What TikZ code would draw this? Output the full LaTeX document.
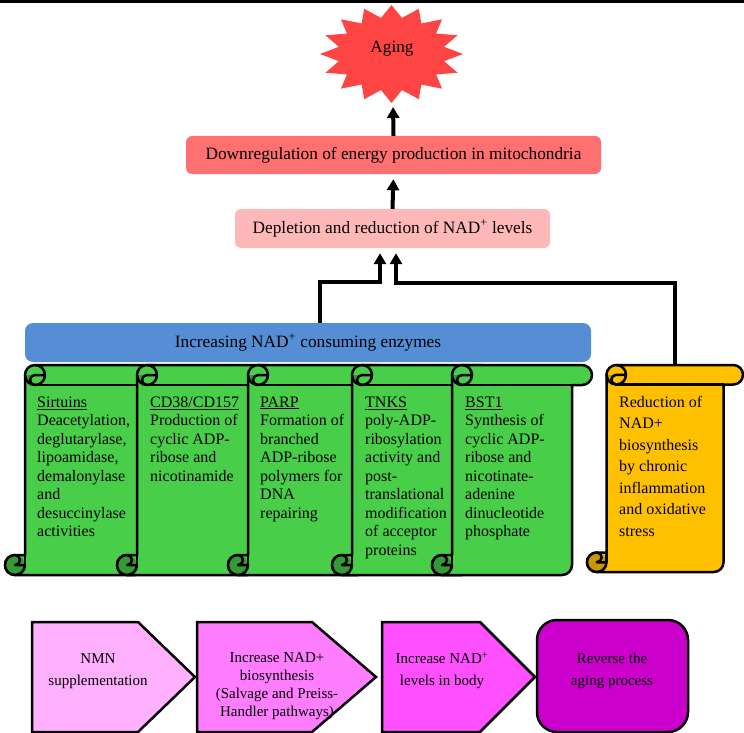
\documentclass[tikz,border=0pt]{standalone}
\usepackage{fontspec}
\setmainfont{Liberation Serif}
\usetikzlibrary{arrows.meta}
\definecolor{starred}{RGB}{255,68,68}
\definecolor{downred}{RGB}{255,112,112}
\definecolor{deppink}{RGB}{255,184,184}
\definecolor{enzblue}{RGB}{85,142,213}
\definecolor{scrollgreen}{RGB}{72,206,72}
\definecolor{scrolldark}{RGB}{52,155,52}
\definecolor{scrollgold}{RGB}{255,192,0}
\definecolor{golddark}{RGB}{200,150,0}
\definecolor{pentA}{RGB}{255,176,255}
\definecolor{pentB}{RGB}{255,125,255}
\definecolor{pentC}{RGB}{255,80,255}
\definecolor{rectD}{RGB}{204,0,204}
\newcommand{\vscroll}[7]{%
  \pgfmathsetmacro\scL{#1}\pgfmathsetmacro\scT{#2}%
  \pgfmathsetmacro\scR{#3}\pgfmathsetmacro\scB{#4}%
  \pgfmathsetmacro\scC{#5}\pgfmathsetmacro\scH{#5/2}\pgfmathsetmacro\scQ{#5/4}%
  \path[fill=#6, draw=black, line width=2.5pt, line join=round]
    (\scL+\scC,\scB-\scC) -- (\scL+\scC,\scT+\scH)
    arc[start angle=180,end angle=90,radius=\scH pt] -- (\scR-\scH,\scT)
    arc[start angle=90,end angle=-90,radius=\scH pt] -- (\scR-\scC,\scT+\scC)
    -- (\scR-\scC,\scB-\scH)
    arc[start angle=0,end angle=-90,radius=\scH pt] -- (\scL+\scH,\scB)
    arc[start angle=-90,end angle=-270,radius=\scH pt] -- cycle;
  \fill[#7] (\scL+\scC,\scT+\scH) arc[start angle=180,end angle=270,radius=\scH pt]
    arc[start angle=270,end angle=90,radius=\scQ pt] -- cycle;
  \fill[#7] (\scL+\scH,\scB-\scH) circle[radius=\scH pt];
  \draw[black, line width=2.5pt, line cap=round, line join=round]
    (\scL+1.5*\scC,\scT) arc[start angle=90,end angle=-90,radius=\scH pt]
    arc[start angle=270,end angle=90,radius=\scQ pt] -- (\scL+2*\scC,\scT+\scH);
  \draw[black, line width=2.5pt, line cap=round]
    (\scL+\scC,\scT+\scH) arc[start angle=180,end angle=270,radius=\scH pt];
  \draw[black, line width=2.5pt, line cap=round]
    (\scR-\scC,\scT+\scC) -- (\scL+1.5*\scC,\scT+\scC);
  \draw[black, line width=2.5pt, line cap=round, line join=round]
    (\scL+\scC,\scB-\scH) arc[start angle=0,end angle=-270,radius=\scH pt]
    arc[start angle=90,end angle=-90,radius=\scQ pt] -- (\scL+\scC,\scB-\scH);
  \draw[black, line width=2.5pt, line cap=round]
    (\scL+\scC,\scB-\scC) -- (\scL+\scC,\scB-\scH);
}
\begin{document}
\begin{tikzpicture}[x=1pt,y=-1pt,
  arr/.style={line width=4pt, line join=miter, -{Triangle[width=12pt,length=11pt]}},
  flatbox/.style={rounded corners=6pt, inner sep=0pt, font=\fontsize{17.3}{20}\selectfont},
  scrolltext/.style={anchor=north west, inner sep=0pt, align=left, font=\fontsize{16}{18.5}\selectfont},
  pentbox/.style={draw=black, line width=2.5pt, line join=miter},
  pentext/.style={anchor=north, inner sep=0pt, align=center}]
\useasboundingbox (0,0) rectangle (744,733);
\fill[black] (0,0) rectangle (744,3);
% star
\fill[starred] plot[samples at={0,...,31}]
  ({391.5+71.5*(0.875+0.125*cos(\x*180))*cos(90+\x*11.25)},
   {54-49*(0.875+0.125*cos(\x*180))*sin(90+\x*11.25)}) -- cycle;
\node[font=\fontsize{17.3}{20}\selectfont, inner sep=0pt] (aging) at (392,49) {Aging};
\coordinate (starbot) at (393,103);
% boxes
\node[flatbox, fill=downred, minimum width=415pt, minimum height=38pt] (down) at (393.5,155)
  {Downregulation of energy production in mitochondria};
\node[flatbox, fill=deppink, minimum width=315pt, minimum height=39pt] (dep) at (392.5,228.5)
  {Depletion and reduction of NAD\textsuperscript{+} levels};
\node[flatbox, rounded corners=8pt, fill=enzblue, minimum width=566pt, minimum height=39pt] (blue) at (308,342.5)
  {Increasing NAD\textsuperscript{+} consuming enzymes};
% scrolls
\vscroll{5}{365}{165}{575}{20}{scrollgreen}{scrolldark}
\vscroll{117}{365}{277}{575}{20}{scrollgreen}{scrolldark}
\vscroll{228}{365}{388}{575}{20}{scrollgreen}{scrolldark}
\vscroll{332}{365}{492}{575}{20}{scrollgreen}{scrolldark}
\vscroll{432}{365}{592}{575}{20}{scrollgreen}{scrolldark}
\vscroll{587}{365}{743}{572}{19.5}{scrollgold}{golddark}
\node[scrolltext] (sirt) at (37,394) {\strut\underline{Sirtuins}\\Deacetylation,\\deglutarylase,\\lipoamidase,\\demalonylase\\and\\desuccinylase\\activities};
\node[scrolltext] (cd38) at (150,394) {\strut\underline{CD38/CD157}\\Production of\\cyclic ADP-\\ribose and\\nicotinamide};
\node[scrolltext] (parp) at (260,394) {\strut\underline{PARP}\\Formation of\\branched\\ADP-ribose\\polymers for\\DNA\\repairing};
\node[scrolltext] (tnks) at (365,394) {\strut\underline{TNKS}\\poly-ADP-\\ribosylation\\activity and\\post-\\translational\\modification\\of acceptor\\proteins};
\node[scrolltext] (bst1) at (465,394) {\strut\underline{BST1}\\Synthesis of\\cyclic ADP-\\ribose and\\nicotinate-\\adenine\\dinucleotide\\phosphate};
\node[scrolltext, font=\fontsize{16}{21.5}\selectfont] (redu) at (619,392) {\strut Reduction of\\NAD+\\biosynthesis\\by chronic\\inflammation\\and oxidative\\stress};
\coordinate (orangetop) at (675,365);
% arrows
\draw[arr, shorten >=4pt] (down.north) -- (starbot);
\draw[arr, shorten >=5pt] (dep.north) -- (down.south);
\coordinate (elbowA) at (320,282);
\coordinate (elbowB) at (675,283);
\draw[arr, shorten >=5pt] (blue.north -| elbowA) -- (elbowA) -| ([xshift=-12.5pt]dep.south);
\draw[arr, shorten >=5pt] (orangetop) -- (elbowB) -| ([xshift=3.5pt]dep.south);
% bottom flow
\draw[pentbox, fill=pentA] (32,622) -- (138,622) -- (195,677) -- (138,732) -- (32,732) -- cycle;
\draw[pentbox, fill=pentB] (197,622) -- (312,622) -- (376,677) -- (312,732) -- (197,732) -- cycle;
\draw[pentbox, fill=pentC] (382,622) -- (480,622) -- (535,677) -- (480,732) -- (382,732) -- cycle;
\draw[pentbox, fill=rectD, rounded corners=20pt] (537,620) rectangle (688,732);
\node[pentext, font=\fontsize{15}{22}\selectfont] (nmn) at (98,648) {\strut NMN\\supplementation};
\node[pentext, font=\fontsize{15}{18.3}\selectfont] (incb) at (277,649) {\strut Increase NAD+\\biosynthesis\\(Salvage and Preiss-\\Handler pathways)};
\node[pentext, font=\fontsize{15}{22}\selectfont] (incl) at (442,648) {\strut Increase NAD\textsuperscript{+}\\levels in body};
\node[pentext, font=\fontsize{15}{22}\selectfont] (rev) at (612,648) {\strut Reverse the\\aging process};
\end{tikzpicture}
\end{document}
